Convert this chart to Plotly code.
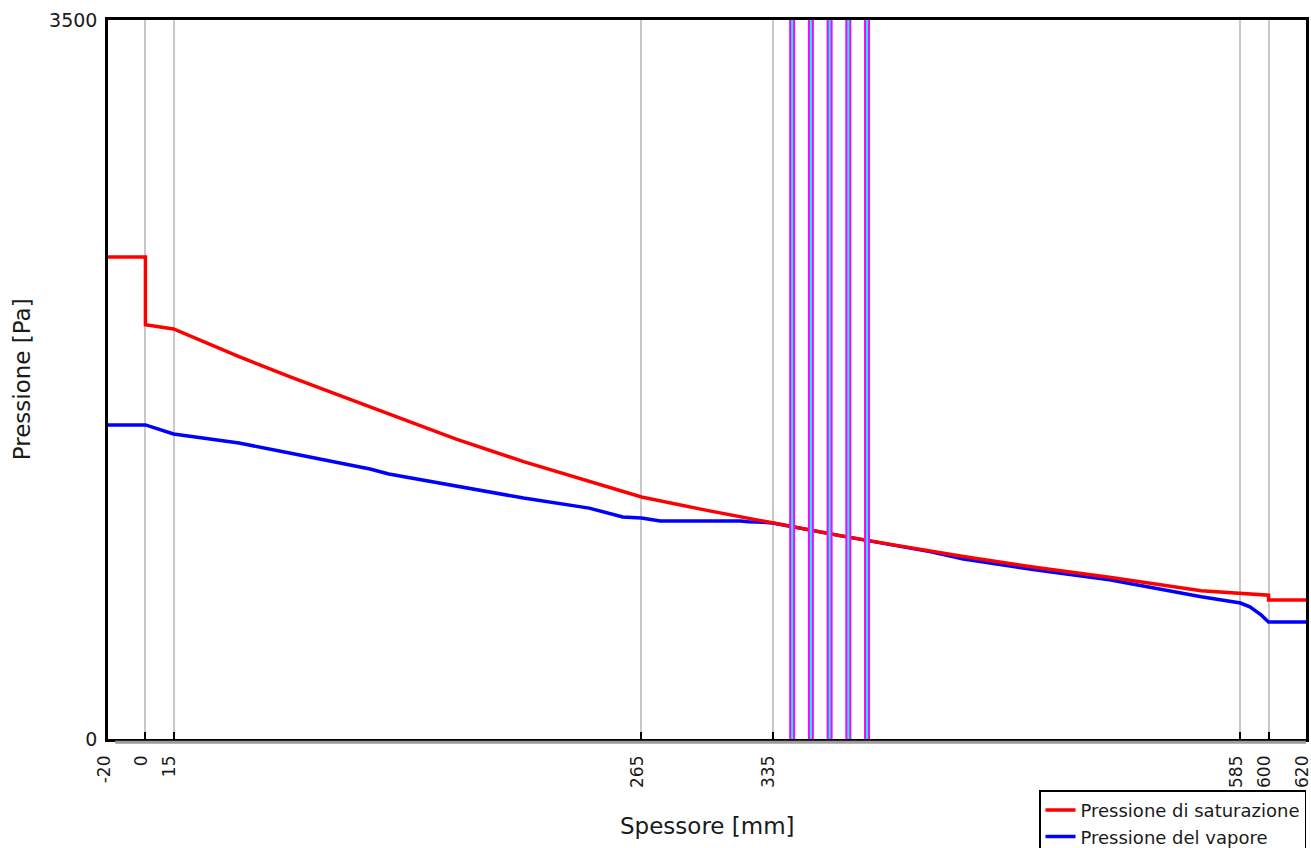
import plotly.graph_objects as go

# Layer boundaries along the wall section [mm]
tick_positions = [-20, 0, 15, 265, 335, 585, 600, 620]
tick_labels = ["-20", "0", "15", "265", "335", "585", "600", "620"]

# Saturation pressure profile [Pa]
x_sat = [-20, 0, 0, 15, 50, 77, 104, 136, 166, 202, 237, 265, 300, 335,
         371, 403, 437, 476, 515, 564, 585, 600, 600, 620]
p_sat = [2346, 2346, 2017, 1996, 1861, 1764, 1672, 1563, 1460, 1350, 1253,
         1178, 1113, 1051, 990, 940, 888, 835, 787, 722, 711, 700, 677, 677]

# Vapour partial pressure profile [Pa]
x_vap = [-20, 0, 15, 50, 77, 104, 120, 130, 166, 202, 237, 255, 265, 275,
         318, 322, 330, 335, 371, 403, 419, 437, 476, 515, 564, 585, 590,
         596, 600, 620]
p_vap = [1529, 1529, 1485, 1441, 1392, 1344, 1314, 1290, 1232, 1173, 1124,
         1081, 1076, 1061, 1061, 1057, 1055, 1051, 990, 940, 912, 876, 823,
         775, 692, 662, 643, 604, 570, 570]

# Interfaces where condensation planes are marked [mm]
condensation_planes = [345.5, 355.5, 365.5, 375.5, 385.5]

FONT = "DejaVu Sans"

fig = go.Figure()

fig.add_trace(go.Scatter(
    x=x_vap, y=p_vap, mode="lines", name="Pressione del vapore",
    line=dict(color="#0000ff", width=3.5), legendrank=2,
))
fig.add_trace(go.Scatter(
    x=x_sat, y=p_sat, mode="lines", name="Pressione di saturazione",
    line=dict(color="#ff0000", width=3.5), legendrank=1,
))

shapes = []
for xc in condensation_planes:
    shapes.append(dict(type="line", xref="x", yref="paper", x0=xc, x1=xc,
                       y0=0, y1=1, line=dict(color="#ff00ff", width=6),
                       layer="above"))
    shapes.append(dict(type="line", xref="x", yref="paper", x0=xc, x1=xc,
                       y0=0, y1=1, line=dict(color="#00ffff", width=2),
                       layer="above"))

# soft shadow under the bottom axis
shapes.append(dict(type="line", xref="paper", yref="paper", x0=0.006, x1=1,
                   y0=-0.0045, y1=-0.0045,
                   line=dict(color="#9a9a9a", width=3), layer="above"))

fig.update_layout(
    width=1311, height=848,
    margin=dict(l=108, r=5, t=20, b=109, autoexpand=False),
    paper_bgcolor="white", plot_bgcolor="white",
    font=dict(family=FONT, size=17, color="#1a1a1a"),
    showlegend=True,
    legend=dict(
        x=1, y=-0.0715, xanchor="right", yanchor="top",
        bordercolor="black", borderwidth=1.5, bgcolor="white",
        font=dict(family=FONT, size=18, color="#1a1a1a"),
        itemwidth=30, tracegroupgap=0,
    ),
    shapes=shapes,
    annotations=[
        dict(text="Spessore [mm]", xref="paper", yref="paper", x=0.5,
             y=-0.121, xanchor="center", yanchor="middle", showarrow=False,
             font=dict(family=FONT, size=23, color="#1a1a1a")),
        dict(text="Pressione [Pa]", xref="paper", yref="paper", x=-0.072,
             y=0.5, xanchor="center", yanchor="middle", showarrow=False,
             textangle=-90,
             font=dict(family=FONT, size=23, color="#1a1a1a")),
    ],
)

fig.update_xaxes(
    range=[-20, 620], tickmode="array", tickvals=tick_positions,
    ticktext=tick_labels, tickangle=-90, ticklabeloverflow="allow",
    ticklabelstandoff=7, ticklabelshift=-4, automargin=False,
    ticks="inside", ticklen=7, tickcolor="black", tickwidth=2,
    showgrid=True, gridcolor="#c8c8c8", gridwidth=1.5,
    showline=True, linecolor="black", linewidth=2.5, mirror=True,
    zeroline=False, tickfont=dict(family=FONT, size=17, color="#1a1a1a"),
)
fig.update_yaxes(
    range=[0, 3500], tickmode="array", tickvals=[0, 3500],
    ticktext=["0", "3500"], ticks="", showgrid=False, automargin=False,
    ticklabelstandoff=4,
    showline=True, linecolor="black", linewidth=2.5, mirror=True,
    zeroline=False, tickfont=dict(family=FONT, size=19, color="#1a1a1a"),
)

fig.write_html("out.html")
